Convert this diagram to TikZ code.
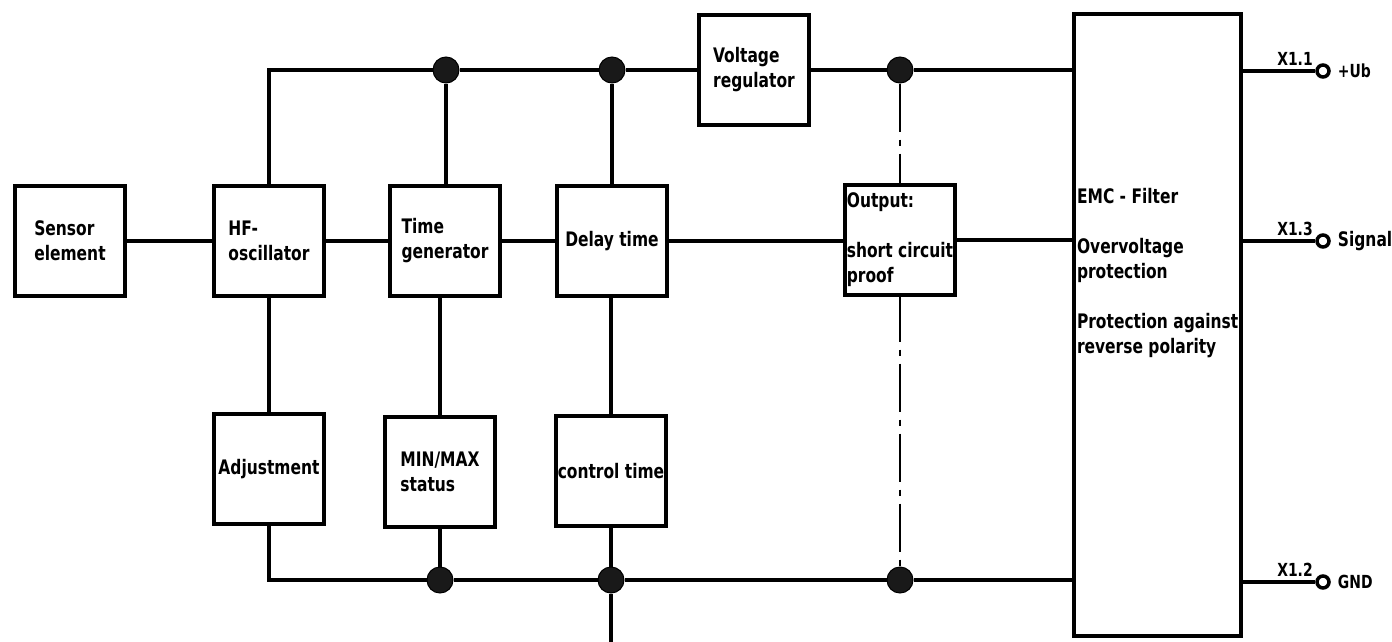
\documentclass[tikz,border=0pt]{standalone}
\usepackage{fontspec}
\setmainfont{DejaVu Sans Condensed}[FakeStretch=0.86]
\usetikzlibrary{positioning,calc,backgrounds}

\tikzset{
  blk/.style={draw, line width=4pt, fill=white, minimum width=110pt, minimum height=110pt,
    align=left, inner sep=1pt, font=\bfseries\fontsize{20}{25}\selectfont},
  wire/.style={line width=3.5pt},
  dashdot/.style={line width=2.2pt, dash pattern=on 48pt off 8pt on 6pt off 8pt},
  joint/.style={circle, fill=black!90, draw=black, line width=1pt, minimum size=26pt, inner sep=0pt},
  term/.style={circle, draw, line width=3.5pt, fill=white, minimum size=12pt, inner sep=0pt},
  lbl/.style={font=\bfseries\fontsize{18}{20}\selectfont, inner sep=1pt},
}

\begin{document}
\begin{tikzpicture}[x=1pt, y=-1pt]
    \useasboundingbox (0,0) rectangle (1392,642);
    % Blocks
    \node[blk] (sensor) at (70,241) {Sensor\\element};
    \node[blk] (hf) at (269,241) {HF-\\oscillator};
    \node[blk] (tgen) at (445,241) {Time\\generator};
    \node[blk] (delay) at (612,241) {Delay time};
    \node[blk] (vreg) at (754,70) {Voltage\\regulator};
    \node[blk] (output) at (900,240) {Output:\\[25pt]short circuit\\proof};
    \node[blk, minimum width=167pt, minimum height=622pt] (emc) at (1157,325) {};
    \node[blk, anchor=north west, draw=none, fill=none, minimum width=0pt, minimum height=0pt, inner sep=0pt]
        (emctxt) at (1075,186) {EMC - Filter\\[25pt]Overvoltage\\protection\\[25pt]Protection against\\reverse polarity};
    \node[blk] (adj) at (269,469) {Adjustment};
    \node[blk] (minmax) at (440,472) {MIN/MAX\\status};
    \node[blk] (ctrl) at (611,471) {control time};
    % Bus joints
    \coordinate (hftop) at (269,70);
    \coordinate (adjbot) at (269,580);
    \coordinate (gndend) at (611,642);
    \node[joint] (t1) at (446,70) {};
    \node[joint] (t2) at (612,70) {};
    \node[joint] (t3) at (900,70) {};
    \node[joint] (b1) at (440,580) {};
    \node[joint] (b2) at (611,580) {};
    \node[joint] (b3) at (900,580) {};
    % Signal path
    \draw[wire] (sensor) -- (hf);
    \draw[wire] (hf) -- (tgen);
    \draw[wire] (tgen) -- (delay);
    \draw[wire] (delay) -- (delay -| output.west);
    \draw[wire] (output.east) -- (output.east -| emc.west);
    % Supply bus
    \draw[wire] (hf) -- (hftop) -- (t1) -- (t2) -- (vreg);
    \draw[wire] (vreg) -- (t3) -- (t3 -| emc.west);
    \draw[wire] (t1) -- (t1 |- tgen.north);
    \draw[wire] (t2) -- (delay);
    % Ground bus
    \draw[wire] (hf) -- (adj);
    \draw[wire] (minmax) -- (minmax |- tgen.south);
    \draw[wire] (ctrl.north) -- (ctrl.north |- delay.south);
    \draw[wire] (adj) -- (adjbot) -- (b1) -- (b2) -- (b3) -- (b3 -| emc.west);
    \draw[wire] (minmax) -- (b1);
    \draw[wire] (ctrl) -- (b2) -- (gndend);
    \begin{pgfonlayer}{background}
        \draw[dashdot] (t3) -- (b3);
    \end{pgfonlayer}
    % Terminals
    \node[term] (xub) at (1323,71) {};
    \node[term] (xsig) at (1323,241) {};
    \node[term] (xgnd) at (1323,582) {};
    \draw[wire] (xub -| emc.east) -- (xub);
    \draw[wire] (xsig -| emc.east) -- (xsig);
    \draw[wire] (xgnd -| emc.east) -- (xgnd);
    \node[lbl, anchor=south] (xublbl) at (1295,67) {X1.1};
    \node[lbl, anchor=south] (xsiglbl) at (1295,237) {X1.3};
    \node[lbl, anchor=south] (xgndlbl) at (1295,578) {X1.2};
    \node[lbl, anchor=west, xshift=6pt] (ubtxt) at (xub.east) {+Ub};
    \node[lbl, anchor=west, xshift=6pt, font=\bfseries\fontsize{20}{22}\selectfont] (sigtxt) at (xsig.east) {Signal};
    \node[lbl, anchor=west, xshift=6pt] (gndtxt) at (xgnd.east) {GND};
\end{tikzpicture}
\end{document}
